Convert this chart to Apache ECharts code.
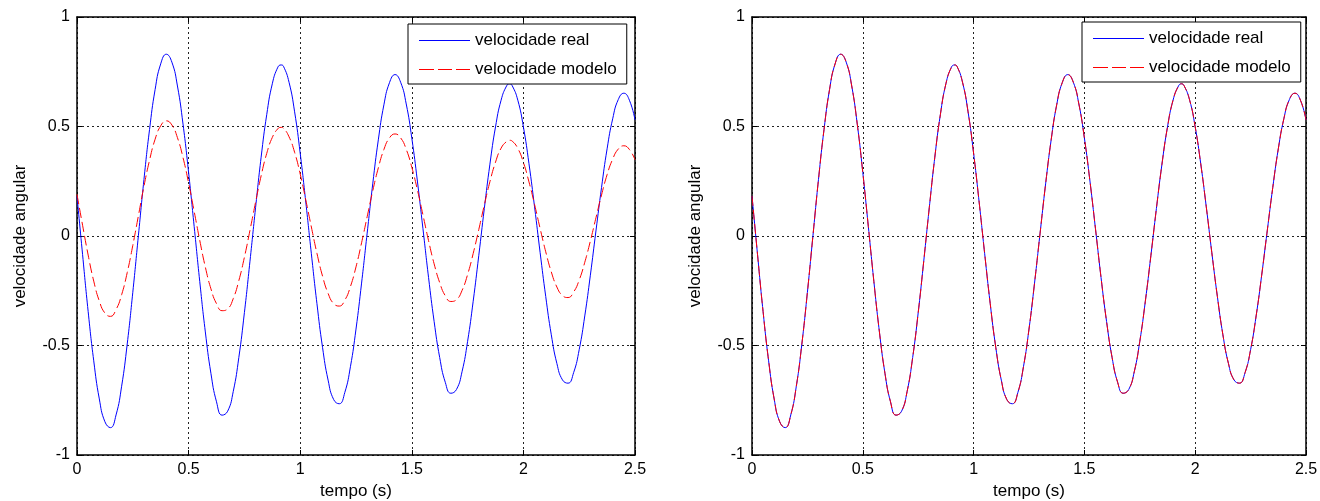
<!DOCTYPE html>
<html>
<head>
<meta charset="utf-8">
<script src="https://cdn.jsdelivr.net/npm/echarts@6/dist/echarts.min.js"></script>
<style>
  html, body { margin: 0; padding: 0; background: #fff; }
  #chart { width: 1320px; height: 501px; }
</style>
</head>
<body>
<div id="chart"></div>
<script>
// sample step of the recorded signals (s)
const T_STEP = 0.025;

const seriesNames = ['velocidade real', 'velocidade modelo'];
const xAxisTitle = 'tempo (s)';
const yAxisTitle = 'velocidade angular';

// velocidade real (both panels)
const realSpeed = [
  0.183, -0.085, -0.345, -0.570, -0.744, -0.848, -0.875, -0.817, -0.686, -0.493,
  -0.257, 0.001, 0.258, 0.486, 0.669, 0.786, 0.830, 0.794, 0.685, 0.511,
  0.290, 0.043, -0.208, -0.438, -0.627, -0.757, -0.818, -0.800, -0.710, -0.555,
  -0.350, -0.115, 0.129, 0.360, 0.554, 0.695, 0.771, 0.775, 0.702, 0.567,
  0.378, 0.155, -0.081, -0.309, -0.508, -0.658, -0.747, -0.766, -0.714, -0.597,
  -0.425, -0.215, 0.013, 0.238, 0.439, 0.599, 0.700, 0.737, 0.702, 0.603,
  0.447, 0.251, 0.033, -0.189, -0.390, -0.555, -0.668, -0.718, -0.701, -0.620,
  -0.481, -0.298, -0.090, 0.126, 0.328, 0.498, 0.620, 0.686, 0.686, 0.620,
  0.498, 0.330, 0.133, -0.076, -0.276, -0.451, -0.582, -0.657, -0.672, -0.624,
  -0.519, -0.365, -0.179, 0.023, 0.221, 0.398, 0.535, 0.623, 0.652, 0.620,
  0.530
];

// velocidade modelo, left panel
const modelSpeedLeft = [
  0.190, 0.049, -0.087, -0.206, -0.297, -0.352, -0.367, -0.336, -0.268, -0.167,
  -0.043, 0.092, 0.227, 0.346, 0.442, 0.503, 0.526, 0.507, 0.449, 0.358,
  0.242, 0.112, -0.020, -0.142, -0.241, -0.309, -0.341, -0.333, -0.286, -0.204,
  -0.097, 0.026, 0.154, 0.275, 0.377, 0.450, 0.490, 0.492, 0.453, 0.382,
  0.283, 0.165, 0.041, -0.079, -0.183, -0.262, -0.309, -0.320, -0.293, -0.231,
  -0.141, -0.031, 0.088, 0.206, 0.311, 0.395, 0.448, 0.466, 0.448, 0.396,
  0.314, 0.211, 0.096, -0.021, -0.127, -0.213, -0.273, -0.299, -0.291, -0.249,
  -0.176, -0.080, 0.029, 0.142, 0.248, 0.337, 0.401, 0.432, 0.433, 0.400,
  0.336, 0.247, 0.144, 0.034, -0.072, -0.164, -0.233, -0.272, -0.281, -0.256,
  -0.201, -0.120, -0.023, 0.083, 0.187, 0.280, 0.351, 0.397, 0.412, 0.395,
  0.348
];

// velocidade modelo, right panel (overlaps the real signal)
const modelSpeedRight = [
  0.183, -0.085, -0.345, -0.570, -0.744, -0.848, -0.875, -0.817, -0.686, -0.493,
  -0.257, 0.001, 0.258, 0.486, 0.669, 0.786, 0.830, 0.794, 0.685, 0.511,
  0.290, 0.043, -0.208, -0.438, -0.627, -0.757, -0.818, -0.800, -0.710, -0.555,
  -0.350, -0.115, 0.129, 0.360, 0.554, 0.695, 0.771, 0.775, 0.702, 0.567,
  0.378, 0.155, -0.081, -0.309, -0.508, -0.658, -0.747, -0.766, -0.714, -0.597,
  -0.425, -0.215, 0.013, 0.238, 0.439, 0.599, 0.700, 0.737, 0.702, 0.603,
  0.447, 0.251, 0.033, -0.189, -0.390, -0.555, -0.668, -0.718, -0.701, -0.620,
  -0.481, -0.298, -0.090, 0.126, 0.328, 0.498, 0.620, 0.686, 0.686, 0.620,
  0.498, 0.330, 0.133, -0.076, -0.276, -0.451, -0.582, -0.657, -0.672, -0.624,
  -0.519, -0.365, -0.179, 0.023, 0.221, 0.398, 0.535, 0.623, 0.652, 0.620,
  0.530
];

// peaks that fall between two samples
const peakTimes = [0.914, 1.938];
const realPeaks = [0.781, 0.695];
const modelLeftPeaks = [0.496, 0.437];
const modelRightPeaks = [0.781, 0.695];

const xRange = [0, 2.5, 0.5];
const yRange = [-1, 1, 0.5];

const COLOR_REAL = '#0000ff';
const COLOR_MODEL = '#ff0000';

// legend samples: a solid line and a dashed line
const ICON_SOLID = 'path://M0,0h51v1h-51z';
const ICON_DASHED = 'path://M0,0h15v1h-15z M19,0h14v1h-14z M37,0h14v1h-14z';

function pairs(vals, peaks) {
  const pts = vals.map((v, i) => [+(i * T_STEP).toFixed(3), v]);
  peakTimes.forEach((t, i) => pts.push([t, peaks[i]]));
  pts.sort((a, b) => a[0] - b[0]);
  return pts;
}

const FONT = 'Liberation Sans, Arial, Helvetica, sans-serif';
const grids = [
  { left: 77, top: 17, width: 558, height: 438, outerBoundsMode: 'none', containLabel: false },
  { left: 752, top: 17, width: 554, height: 438, outerBoundsMode: 'none', containLabel: false }
];

const xAxes = [], yAxes = [];
grids.forEach((g, gi) => {
  xAxes.push({
    type: 'value', gridIndex: gi, position: 'bottom',
    min: xRange[0], max: xRange[1], interval: xRange[2],
    name: xAxisTitle, nameLocation: 'middle', nameGap: 28,
    nameTextStyle: { fontFamily: FONT, fontSize: 17, color: '#000' },
    axisLine: { show: true, onZero: false, lineStyle: { color: '#000', width: 1.5 } },
    axisTick: { show: true, inside: true, length: 5, lineStyle: { color: '#000' } },
    axisLabel: { fontFamily: FONT, fontSize: 16, color: '#000', margin: 7 },
    splitLine: { show: true, lineStyle: { color: '#222', type: [2, 3], width: 1 } }
  });
  xAxes.push({
    type: 'value', gridIndex: gi, position: 'top',
    min: xRange[0], max: xRange[1], interval: xRange[2],
    axisLine: { show: true, onZero: false, lineStyle: { color: '#000', width: 1.5 } },
    axisTick: { show: true, inside: true, length: 5, lineStyle: { color: '#000' } },
    axisLabel: { show: false }, splitLine: { show: false }
  });
  yAxes.push({
    type: 'value', gridIndex: gi, position: 'left',
    min: yRange[0], max: yRange[1], interval: yRange[2],
    name: yAxisTitle, nameLocation: 'middle', nameGap: 48,
    nameTextStyle: { fontFamily: FONT, fontSize: 17, color: '#000' },
    axisLine: { show: true, onZero: false, lineStyle: { color: '#000', width: 1.5 } },
    axisTick: { show: true, inside: true, length: 5, lineStyle: { color: '#000' } },
    axisLabel: { fontFamily: FONT, fontSize: 16, color: '#000', margin: 7 },
    splitLine: { show: true, lineStyle: { color: '#222', type: [2, 3], width: 1 } }
  });
  yAxes.push({
    type: 'value', gridIndex: gi, position: 'right',
    min: yRange[0], max: yRange[1], interval: yRange[2],
    axisLine: { show: true, onZero: false, lineStyle: { color: '#000', width: 1.5 } },
    axisTick: { show: true, inside: true, length: 5, lineStyle: { color: '#000' } },
    axisLabel: { show: false }, splitLine: { show: false }
  });
});

function lineSeries(name, vals, peaks, gi, color, dashed) {
  return {
    type: 'line', name: name, data: pairs(vals, peaks),
    xAxisIndex: gi * 2, yAxisIndex: gi * 2,
    showSymbol: false, symbol: 'none', smooth: true,
    lineStyle: { color: color, width: 1, type: dashed ? [10, 4] : 'solid' },
    itemStyle: { color: color },
    emphasis: { disabled: true }
  };
}

function legendAt(left, top) {
  return {
    left: left, top: top, orient: 'vertical',
    data: [
      { name: seriesNames[0], icon: ICON_SOLID,
        itemStyle: { color: COLOR_REAL, borderWidth: 0, opacity: 1 } },
      { name: seriesNames[1], icon: ICON_DASHED,
        itemStyle: { color: COLOR_MODEL, borderWidth: 0, opacity: 1 } }
    ],
    itemWidth: 51, itemHeight: 12, itemGap: 12,
    symbolKeepAspect: true,
    padding: [8, 10, 6, 11],
    borderColor: '#000', borderWidth: 1, backgroundColor: '#fff',
    textStyle: { fontFamily: FONT, fontSize: 17, color: '#000' },
    selectedMode: false
  };
}

const option = {
  animation: false,
  backgroundColor: '#fff',
  grid: grids,
  xAxis: xAxes,
  yAxis: yAxes,
  legend: [legendAt(408, 24), legendAt(1082, 22)],
  series: [
    lineSeries(seriesNames[0], realSpeed, realPeaks, 0, COLOR_REAL, false),
    lineSeries(seriesNames[1], modelSpeedLeft, modelLeftPeaks, 0, COLOR_MODEL, true),
    lineSeries(seriesNames[0], realSpeed, realPeaks, 1, COLOR_REAL, false),
    lineSeries(seriesNames[1], modelSpeedRight, modelRightPeaks, 1, COLOR_MODEL, true)
  ]
};

const chart = echarts.init(document.getElementById('chart'), null, { renderer: 'canvas' });
chart.setOption(option);
</script>
</body>
</html>
